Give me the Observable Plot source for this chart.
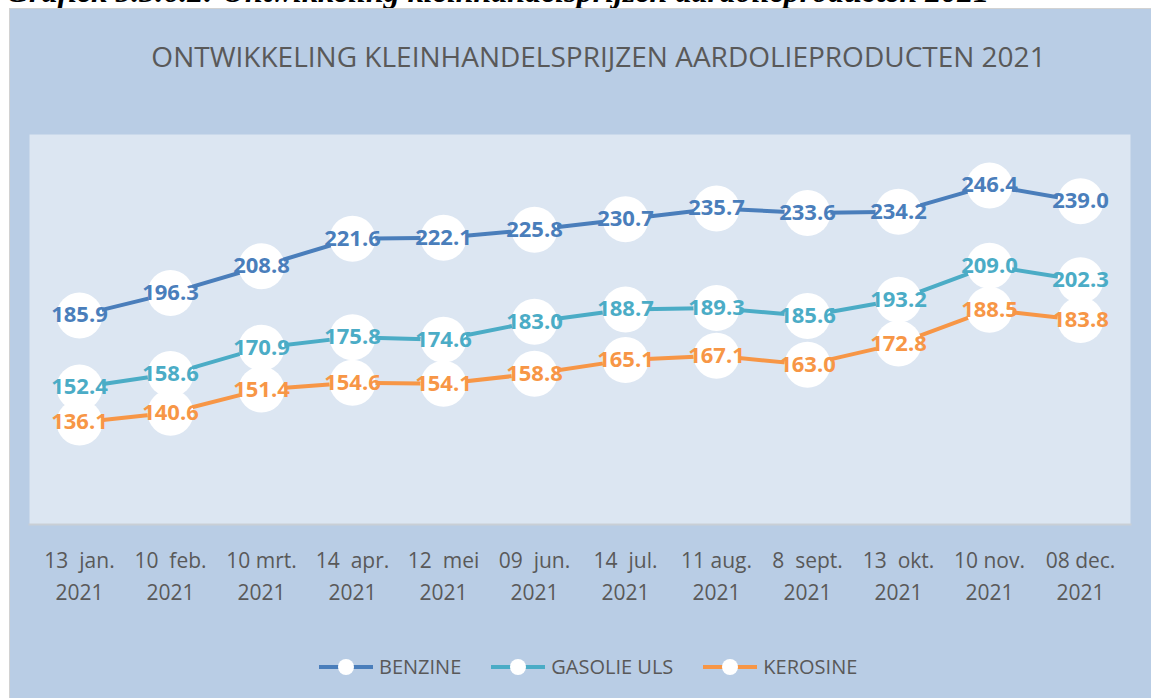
<!DOCTYPE html>
<html>
<head>
<meta charset="utf-8">
<script src="https://cdn.jsdelivr.net/npm/d3@7"></script>
<script src="https://cdn.jsdelivr.net/npm/@observablehq/plot@0.6"></script>
<style>
  html, body { margin: 0; padding: 0; background: #ffffff; width: 1151px; height: 698px; overflow: hidden; position: relative; }
  #caption { position: absolute; left: 6px; top: -25px; font-family: "Liberation Serif", serif; font-weight: bold; font-style: italic; font-size: 32px; line-height: 1; color: #000; white-space: nowrap; }
  #chart { position: absolute; left: 9px; top: 8px; width: 1142px; height: 690px; background: #B9CDE5; border-left: 1px solid #d2d2d2; border-top: 1px solid #d2d2d2; box-sizing: border-box; }
  #title { position: absolute; left: 18px; width: 1141px; top: 33px; text-align: center; font-family: "Open Sans", sans-serif; font-size: 28px; line-height: 1; color: #595959; white-space: nowrap; }
  #plot { position: absolute; left: 0; top: 101px; }
  #legend { position: absolute; left: 309px; top: 644px; display: flex; align-items: center; font-family: "Open Sans", sans-serif; font-size: 20px; color: #595959; }
  .item { display: flex; align-items: center; margin-right: 30px; }
  .item svg { margin-right: 6px; }
</style>
</head>
<body>
<div id="caption">Grafiek 5.3.6.2: Ontwikkeling kleinhandelsprijzen aardolieproducten 2021</div>
<div id="chart">
  <div id="title">ONTWIKKELING KLEINHANDELSPRIJZEN AARDOLIEPRODUCTEN 2021</div>
  <div id="plot"></div>
  <div id="legend"></div>
</div>
<script>
const dates = ["13 \u00a0jan.", "10 \u00a0feb.", "10 mrt.", "14 \u00a0apr.", "12 \u00a0mei", "09 \u00a0jun.", "14 \u00a0jul.", "11 aug.", "8 \u00a0sept.", "13 \u00a0okt.", "10 nov.", "08 dec."];
const years = ["2021", "2021", "2021", "2021", "2021", "2021", "2021", "2021", "2021", "2021", "2021", "2021"];
const seriesNames = ["BENZINE", "GASOLIE ULS", "KEROSINE"];
const seriesColors = ["#4A7EBB", "#4BACC6", "#F79646"];
const benzine = [185.9, 196.3, 208.8, 221.6, 222.1, 225.8, 230.7, 235.7, 233.6, 234.2, 246.4, 239.0];
const gasolie = [152.4, 158.6, 170.9, 175.8, 174.6, 183.0, 188.7, 189.3, 185.6, 193.2, 209.0, 202.3];
const kerosine = [136.1, 140.6, 151.4, 154.6, 154.1, 158.8, 165.1, 167.1, 163.0, 172.8, 188.5, 183.8];
const allValues = [benzine, gasolie, kerosine];

const data = [];
seriesNames.forEach((s, si) => {
  allValues[si].forEach((v, i) => data.push({series: s, date: dates[i], value: v}));
});
const labelOf = new Map(dates.map((d, i) => [d, d + "\n" + years[i]]));
const colorOf = new Map(seriesNames.map((s, i) => [s, seriesColors[i]]));

const font = "'Open Sans', sans-serif";
const chart = Plot.plot({
  width: 1141,
  height: 505,
  marginLeft: 19,
  marginRight: 21,
  marginTop: 24,
  marginBottom: 91,
  style: { background: "transparent", fontFamily: font, overflow: "visible" },
  x: { type: "point", domain: dates, padding: 0.5 },
  y: { domain: [88.6, 270.1], axis: null },
  marks: [
    Plot.frame({ fill: "#DCE6F2", stroke: null }),
    Plot.frame({ anchor: "bottom", stroke: "#c9cfd6", strokeWidth: 2 }),
    Plot.axisX({ tickSize: 0, tickPadding: 21, fontSize: 21, lineHeight: 1.52, fill: "#595959", tickFormat: d => labelOf.get(d), label: null }),
    ...seriesNames.map(s => Plot.line(data.filter(d => d.series === s), { x: "date", y: "value", stroke: colorOf.get(s), strokeWidth: 4 })),
    Plot.dot(data, { x: "date", y: "value", r: 23, fill: "white", stroke: null }),
    Plot.text(data, { x: "date", y: "value", text: d => d.value.toFixed(1), fill: d => colorOf.get(d.series), fontSize: 22, fontWeight: "bold", fontFamily: font })
  ]
});
document.getElementById("plot").appendChild(chart);

const legend = document.getElementById("legend");
seriesNames.forEach((s, i) => {
  const item = document.createElement("div");
  item.className = "item";
  item.innerHTML = `<svg width="54" height="20"><line x1="0" y1="10" x2="54" y2="10" stroke="${seriesColors[i]}" stroke-width="4"/><circle cx="27" cy="10" r="8" fill="white"/></svg><span>${s}</span>`;
  legend.appendChild(item);
});
</script>
</body>
</html>
